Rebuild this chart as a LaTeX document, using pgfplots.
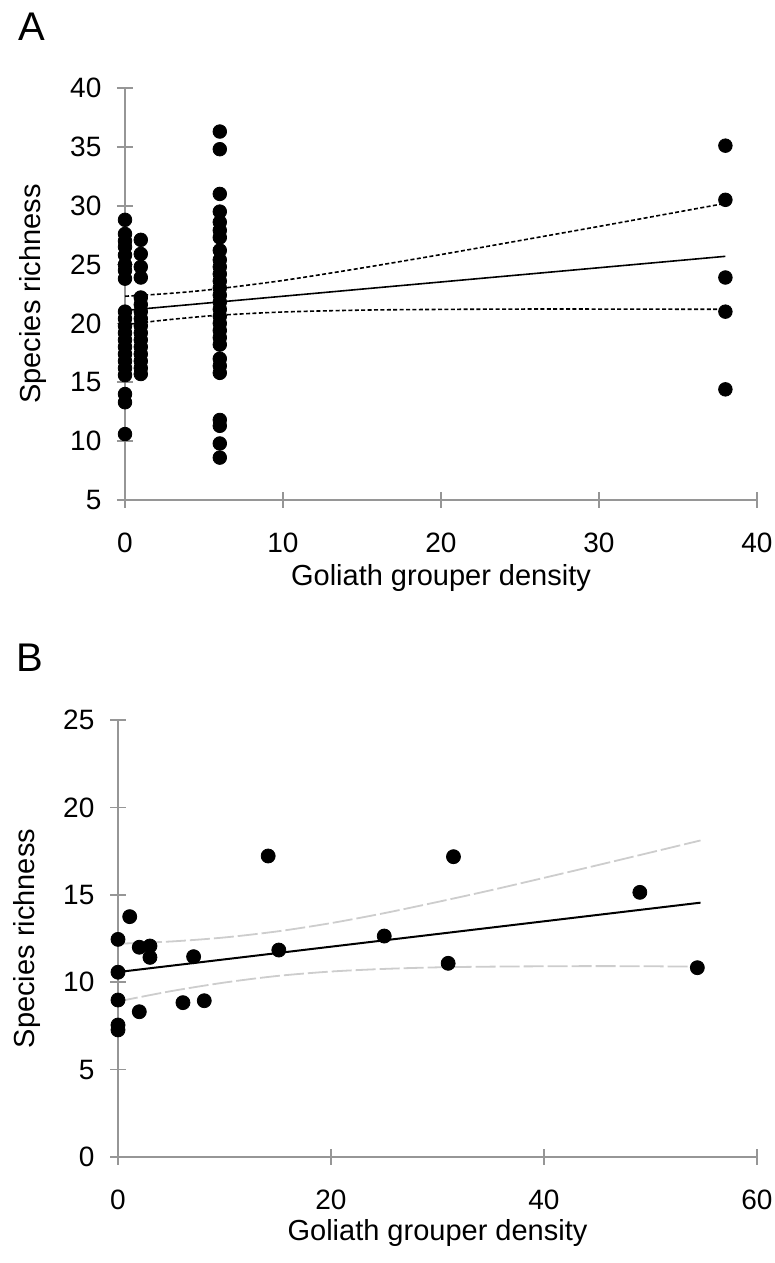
\documentclass[border=0pt]{standalone}
\usepackage{fontspec}
\setmainfont{Liberation Sans}
\usepackage{pgfplots}
\pgfplotsset{compat=1.18}
\definecolor{axgray}{RGB}{150,150,150}
\definecolor{bandgray}{RGB}{205,205,205}
\pgfplotsset{
  myaxis/.style={
    scale only axis,
    clip=false,
    axis lines*=left,
    axis line style={draw=axgray,line width=0.8pt,-},
    tick style={draw=axgray,line width=0.8pt},
    tick align=center,
    major tick length=8pt,
    /pgf/number format/assume math mode=true,
    tick label style={font=\fontsize{14}{16}\selectfont},
    yticklabel style={xshift=-4.3pt},
    xticklabel style={yshift=-9pt},
    label style={font=\fontsize{14.5}{17}\selectfont},
    every axis plot/.append style={line join=round},
  },
  dots/.style={only marks, mark=*, mark size=3.4pt, mark options={fill=black,draw=black}},
}
\begin{document}
\begin{tikzpicture}
\path[use as bounding box] (0,0) rectangle (387.5pt,631.5pt);
\node[font=\fontsize{20}{22}\selectfont] at (16pt,618pt) {A};
\node[font=\fontsize{20}{22}\selectfont] at (15pt,302.5pt) {B};
% ---------------- Panel A ----------------
\begin{axis}[myaxis,
  at={(62.5pt,381.5pt)}, anchor=south west,
  width=316pt, height=206pt,
  xmin=0, xmax=40, ymin=5, ymax=40,
  xtick={0,10,20,30,40}, ytick={5,10,15,20,25,30,35,40},
  xlabel={Goliath grouper density},
  ylabel={Species richness},
  xlabel style={at={(axis description cs:0.5,-0.189)},anchor=center},
  ylabel style={at={(axis description cs:-0.1456,0.5)},anchor=center},
]
\addplot[dots] coordinates {
(0,28.8) (0,27.6) (0,27.0) (0,26.5) (0,25.8) (0,25.0) (0,24.5) (0,23.8)
(0,21.0) (0,20.4) (0,19.8) (0,19.2) (0,18.6) (0,18.0) (0,17.4) (0,16.8) (0,16.2) (0,15.6)
(0,14.0) (0,13.3) (0,10.6)
(1,27.1) (1,25.9) (1,24.8) (1,23.9) (1,22.2) (1,21.6) (1,21.0) (1,20.4) (1,19.8)
(1,19.2) (1,18.6) (1,18.0) (1,17.4) (1,16.8) (1,16.2) (1,15.7)
(6,36.3) (6,34.8) (6,31.0) (6,29.5) (6,28.6) (6,27.9) (6,27.3) (6,26.2) (6,25.4)
(6,24.8) (6,24.2) (6,23.6) (6,23.0) (6,22.4) (6,21.8) (6,21.2) (6,20.6) (6,20.0)
(6,19.4) (6,18.8) (6,18.2) (6,17.0) (6,16.4) (6,15.8) (6,11.8) (6,11.3) (6,9.8) (6,8.6)
(38,35.1) (38,30.5) (38,23.9) (38,21.0) (38,14.4)
};
\addplot[black, line width=0.8pt] coordinates {(0,21.1) (38,25.7)};
\addplot[black, line width=0.8pt, dash pattern=on 2pt off 1.2pt, smooth] coordinates {
(0,22.31) (2,22.47) (4,22.68) (6,22.96) (10,23.65) (15,24.71) (20,25.85) (25,27.04) (30,28.24) (34,29.22) (38,30.20)};
\addplot[black, line width=0.8pt, dash pattern=on 2pt off 1.2pt, smooth] coordinates {
(0,19.89) (2,20.21) (4,20.48) (6,20.70) (10,20.97) (15,21.13) (20,21.19) (25,21.22) (30,21.22) (34,21.21) (38,21.20)};
\end{axis}
% ---------------- Panel B ----------------
\begin{axis}[myaxis,
  at={(59pt,53pt)}, anchor=south west,
  width=319.5pt, height=218.5pt,
  xmin=0, xmax=60, ymin=0, ymax=25,
  xtick={0,20,40,60}, ytick={0,5,10,15,20,25},
  xlabel={Goliath grouper density},
  ylabel={Species richness},
  xlabel style={at={(axis description cs:0.5,-0.174)},anchor=center},
  ylabel style={at={(axis description cs:-0.142,0.5)},anchor=center},
]
\addplot[bandgray, line width=0.9pt, dash pattern=on 10pt off 2pt, smooth] coordinates {
(0,12.20) (5,12.33) (10,12.56) (15,12.91) (20,13.38) (25,13.95) (30,14.59) (35,15.26) (40,15.97) (45,16.69) (50,17.42) (54.7,18.11)};
\addplot[bandgray, line width=0.9pt, dash pattern=on 10pt off 2pt, smooth] coordinates {
(0,8.90) (5,9.49) (10,9.98) (15,10.36) (20,10.61) (25,10.76) (30,10.85) (35,10.89) (40,10.91) (45,10.92) (50,10.91) (54.7,10.89)};
\addplot[black, line width=1pt] coordinates {(0,10.58) (54.7,14.55)};
\addplot[dots, mark size=3.5pt] coordinates {
(0,12.45) (1.1,13.75) (0,10.57) (0,8.98) (0,7.55) (0,7.27) (2,8.31) (2,12.0) (3,12.07) (3,11.42)
(6.1,8.83) (8.1,8.94) (7.1,11.46) (14.1,17.22) (15.1,11.84) (25,12.64) (31.5,17.18) (31,11.08) (49,15.14) (54.4,10.83)};
\end{axis}
\end{tikzpicture}
\end{document}
